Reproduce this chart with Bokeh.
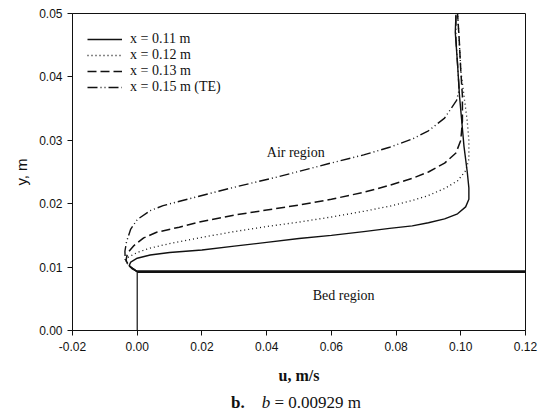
from bokeh.plotting import figure
from bokeh.models import Label, FixedTicker, PrintfTickFormatter, Div
from bokeh.layouts import column
from bokeh.embed import file_html
from bokeh.resources import INLINE

# ---------------- data ----------------
b_height = 0.00929
x_ticks = [-0.02, 0.0, 0.02, 0.04, 0.06, 0.08, 0.10, 0.12]
y_ticks = [0.0, 0.01, 0.02, 0.03, 0.04, 0.05]

u_011 = [0.0, -0.0015, -0.0025, -0.002, 0.0, 0.004, 0.01, 0.02, 0.03, 0.04, 0.05, 0.06, 0.07, 0.078,
         0.085, 0.09, 0.095, 0.099, 0.1015, 0.1025, 0.1025, 0.102, 0.101, 0.1003, 0.0996, 0.099, 0.0983, 0.0985]
y_011 = [0.0093, 0.0097, 0.0102, 0.0108, 0.0114, 0.0119, 0.0123, 0.0127, 0.0133, 0.0139, 0.0145, 0.0150, 0.0156, 0.0161,
         0.0165, 0.0170, 0.0176, 0.0184, 0.0195, 0.0207, 0.0225, 0.025, 0.029, 0.033, 0.037, 0.042, 0.047, 0.0498]

u_012 = [0.0, -0.002, -0.0035, -0.003, 0.0, 0.004, 0.01, 0.02, 0.03, 0.04, 0.05, 0.06, 0.07, 0.078,
         0.085, 0.09, 0.095, 0.099, 0.1015, 0.1025, 0.1025, 0.102, 0.101, 0.100, 0.0995, 0.099]
y_012 = [0.0093, 0.0100, 0.0108, 0.0115, 0.0123, 0.0130, 0.0137, 0.0147, 0.0156, 0.0164, 0.0171, 0.0179, 0.0188, 0.0196,
         0.0205, 0.0213, 0.0224, 0.0236, 0.0252, 0.027, 0.030, 0.033, 0.037, 0.041, 0.046, 0.050]

u_013 = [0.0, -0.002, -0.0035, -0.003, -0.001, 0.002, 0.006, 0.013, 0.02, 0.03, 0.04, 0.05, 0.06, 0.07,
         0.078, 0.085, 0.09, 0.095, 0.0985, 0.1, 0.1005, 0.1005, 0.1, 0.0995, 0.099]
y_013 = [0.0093, 0.0100, 0.0110, 0.0122, 0.0134, 0.0146, 0.0155, 0.0163, 0.0172, 0.0182, 0.0190, 0.0198, 0.0207, 0.0218,
         0.0229, 0.0240, 0.0250, 0.0264, 0.0280, 0.0300, 0.033, 0.037, 0.041, 0.046, 0.050]

u_015 = [0.0, -0.002, -0.0037, -0.0038, -0.0033, -0.002, 0.0, 0.004, 0.008, 0.014, 0.02, 0.03, 0.044, 0.059,
         0.07, 0.078, 0.085, 0.09, 0.095, 0.0987, 0.0995, 0.099, 0.0985, 0.0985]
y_015 = [0.0093, 0.0100, 0.0110, 0.0125, 0.0140, 0.0160, 0.0175, 0.0189, 0.0197, 0.0205, 0.0213, 0.0226, 0.0243, 0.0263,
         0.0277, 0.0289, 0.0302, 0.0315, 0.0335, 0.0363, 0.038, 0.042, 0.046, 0.050]

bed_x = [0.0, 0.12]
bed_wall_y = [0.0, b_height]

SERIF = "Liberation Serif"
SANS = "Liberation Sans"
INK = "#111111"

p = figure(width=538, height=390, x_range=(-0.02, 0.12), y_range=(0.0, 0.05),
           output_backend="svg", toolbar_location=None,
           min_border_left=72, min_border_right=13, min_border_top=13, min_border_bottom=60)
p.background_fill_color = "white"
p.border_fill_color = "white"
p.outline_line_color = INK
p.outline_line_width = 1
p.xgrid.visible = False
p.ygrid.visible = False

for ax in (p.xaxis, p.yaxis):
    ax.minor_tick_line_color = None
    ax.major_tick_in = 0
    ax.major_tick_out = 5
    ax.axis_line_color = INK
    ax.major_tick_line_color = INK
    ax.major_label_text_font = SANS
    ax.major_label_text_font_size = "12px"
    ax.major_label_text_color = INK
    ax.formatter = PrintfTickFormatter(format="%.2f")
p.xaxis.ticker = FixedTicker(ticks=x_ticks)
p.yaxis.ticker = FixedTicker(ticks=y_ticks)
p.xaxis.major_label_standoff = 6
p.yaxis.major_label_standoff = 5

p.yaxis.axis_label = "y, m"
p.yaxis.axis_label_text_font = SANS
p.yaxis.axis_label_text_font_style = "normal"
p.yaxis.axis_label_text_font_size = "15px"
p.yaxis.axis_label_text_color = INK
p.yaxis.axis_label_standoff = 6

p.xaxis.axis_label = "u, m/s"
p.xaxis.axis_label_text_font = SERIF
p.xaxis.axis_label_text_font_style = "bold"
p.xaxis.axis_label_text_font_size = "16px"
p.xaxis.axis_label_text_color = INK
p.xaxis.axis_label_standoff = 13

# bed
p.line(bed_x, [b_height, b_height], line_color=INK, line_width=2.6)
p.line([0.0, 0.0], bed_wall_y, line_color=INK, line_width=1.2)

# profiles
p.line(u_011, y_011, line_color=INK, line_width=1.4, legend_label="x = 0.11 m")
p.line(u_012, y_012, line_color=INK, line_width=1.3, line_dash="1 3", legend_label="x = 0.12 m")
p.line(u_013, y_013, line_color=INK, line_width=1.5, line_dash="9 4", legend_label="x = 0.13 m")
p.line(u_015, y_015, line_color=INK, line_width=1.4, line_dash="10 3 1 3 1 3", legend_label="x = 0.15 m (TE)")

lg = p.legend[0]
lg.location = (15, 235)
lg.border_line_color = None
lg.background_fill_alpha = 0
lg.margin = 0
lg.padding = 0
lg.spacing = -2
lg.glyph_width = 35
lg.glyph_height = 14
lg.label_height = 14
lg.label_standoff = 8
lg.label_text_font = SERIF
lg.label_text_font_size = "14px"
lg.label_text_color = INK

# region labels
p.add_layout(Label(x=0.049, y=0.0281, text="Air region", text_font=SERIF, text_font_size="14px",
                   text_align="center", text_baseline="middle", text_color=INK))
p.add_layout(Label(x=0.0638, y=0.0055, text="Bed region", text_font=SERIF, text_font_size="14px",
                   text_align="center", text_baseline="middle", text_color=INK))

caption = Div(
    text=('<div style="width:538px;text-align:left;font-family:\'Liberation Serif\';font-size:17px;'
          'line-height:26px;color:#111;padding-left:231px;box-sizing:border-box;white-space:nowrap;">'
          '<b>b.</b>&nbsp;&nbsp;&nbsp;&nbsp;<i>b</i> = 0.00929 m</div>'),
    width=538, height=25, styles={"margin": "0", "padding": "0"})

layout = column(p, caption, spacing=0)
open("out.html", "w").write(file_html(layout, INLINE))
